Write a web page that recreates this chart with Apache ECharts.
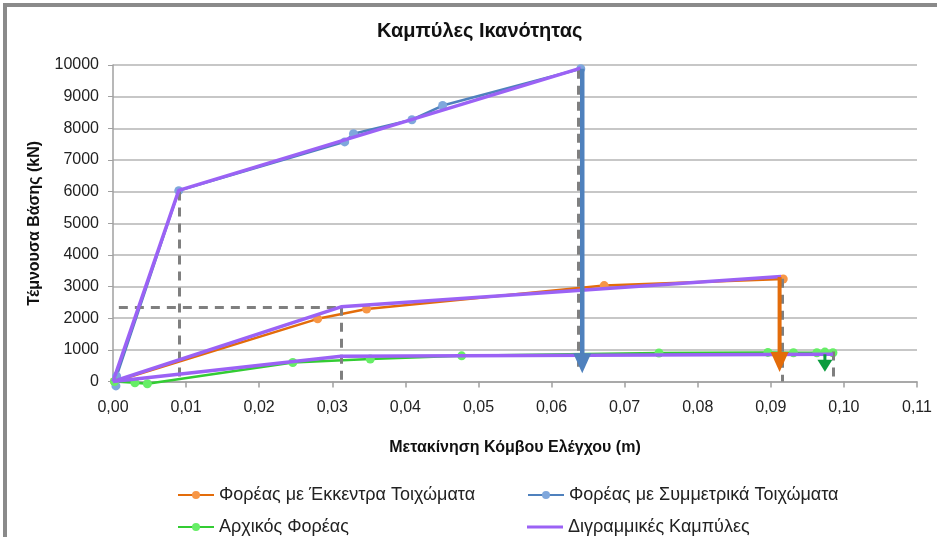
<!DOCTYPE html>
<html><head><meta charset="utf-8">
<script src="https://cdn.jsdelivr.net/npm/echarts@6/dist/echarts.min.js"></script>
<style>html,body{margin:0;padding:0;background:#fff}#c{width:937px;height:537px}</style>
</head><body><div id="c"></div>
<script>
// ---- data ----
const title = 'Καμπύλες Ικανότητας';
const xName = 'Μετακίνηση Κόμβου Ελέγχου (m)';
const yName = 'Τέμνουσα Βάσης (kN)';
const seriesNames = ['Φορέας με Έκκεντρα Τοιχώματα','Φορέας με Συμμετρικά Τοιχώματα','Αρχικός Φορέας','Διγραμμικές Καμπύλες'];

const eccX = [0.0002, 0.0280, 0.0347, 0.0672, 0.0917];
const eccY = [0, 1980, 2290, 3030, 3240];

const symX = [0.0004, 0.0005, 0.0090, 0.0317, 0.0329, 0.0409, 0.0451, 0.0640];
const symY = [-140, 170, 6030, 7570, 7830, 8270, 8720, 9880];

const initX = [0.0002, 0.0030, 0.0047, 0.0246, 0.0352, 0.0477, 0.0747, 0.0896, 0.0931, 0.0963, 0.0974, 0.0985];
const initY = [0, -40, -70, 600, 710, 810, 900, 920, 910, 910, 930, 910];

const biSymX = [0, 0.0090, 0.0640];
const biSymY = [0, 6040, 9900];
const biEccX = [0, 0.0312, 0.0914];
const biEccY = [0, 2360, 3320];
const biInitX = [0, 0.0312, 0.0985];
const biInitY = [0, 800, 860];

// arrows: [x, yStart, yHeadCentre]
const arrowSym = [0.0642, 9880, 580];
const arrowEcc = [0.0912, 3300, 620];
const arrowInit = [0.0974, 860, 500];

// dashed guide lines: [x1,y1,x2,y2]
const guides = [
  [0.0090, 6000, 0.0090, 0],
  [0.0008, 2360, 0.0312, 2360],
  [0.0312, 2360, 0.0312, 0],
  [0.0637, 9850, 0.0637, 300],
  [0.0916, 3250, 0.0916, 0],
  [0.0985, 950, 0.0985, 0]
];

const xMin = 0, xMax = 0.11, xStep = 0.01;
const yMin = 0, yMax = 10000, yStep = 1000;

// ---- build ----
const zip = (a, b) => a.map((v, i) => [v, b[i]]);
const cOrange = '#e36c0a', cOrangeM = '#f79646';
const cBlue = '#4f81bd', cBlueM = '#7fa7dc';
const cGreen = '#33cc33', cGreenM = '#66ee66';
const cPurple = '#9b62f5';

function dataSeries(name, xs, ys, color, mcolor) {
  return {
    name, type: 'line', data: zip(xs, ys), clip: false,
    symbol: 'circle', symbolSize: 9, showSymbol: true,
    lineStyle: { color, width: 2.5 },
    itemStyle: { color: mcolor, borderColor: mcolor, borderWidth: 0 },
    z: 3, animation: false
  };
}
function biSeries(xs, ys) {
  return {
    name: seriesNames[3], type: 'line', data: zip(xs, ys), clip: false,
    symbol: 'none', lineStyle: { color: cPurple, width: 3.5 },
    itemStyle: { color: cPurple }, z: 5, animation: false
  };
}
function arrowSeries(a, color, width, size) {
  return {
    type: 'line', silent: true, z: 8, zlevel: 0, clip: false, animation: false,
    lineStyle: { color, width },
    itemStyle: { color, borderWidth: 0 },
    showSymbol: true, showAllSymbol: true,
    symbol: (v, p) => p.dataIndex === 1 ? 'triangle' : 'none',
    symbolSize: (v, p) => p.dataIndex === 1 ? size : 0,
    symbolRotate: 180,
    data: [[a[0], a[1]], [a[0], a[2]]]
  };
}

const guideLines = guides.map(g => [{ coord: [g[0], g[1]] }, { coord: [g[2], g[3]] }]);

const fontReg = '"Liberation Sans", Arial, sans-serif';

const legendBase = {
  itemWidth: 36, itemHeight: 10,
  textStyle: { fontFamily: fontReg, fontSize: 18, color: '#222' },
  itemGap: 0
};

const option = {
  backgroundColor: '#fff',
  animation: false,
  title: {
    text: title, left: 372, top: 16,
    textStyle: { fontFamily: fontReg, fontSize: 20, fontWeight: 'bold', color: '#111' }
  },
  grid: { left: 113, right: 20, top: 65, bottom: 155.5, containLabel: false },
  legend: [
    Object.assign({}, legendBase, { data: [seriesNames[0]], left: 172, top: 481 }),
    Object.assign({}, legendBase, { data: [seriesNames[1]], left: 522, top: 481 }),
    Object.assign({}, legendBase, { data: [seriesNames[2]], left: 172, top: 513 }),
    Object.assign({}, legendBase, { data: [{ name: seriesNames[3], icon: 'rect' }], left: 522, top: 513, itemHeight: 3 })
  ],
  xAxis: {
    type: 'value', min: xMin, max: xMax, interval: xStep,
    name: xName, nameLocation: 'middle', nameGap: 58,
    nameTextStyle: { fontFamily: fontReg, fontSize: 16, fontWeight: 'bold', color: '#111' },
    axisLine: { show: true, lineStyle: { color: '#a0a0a0', width: 1.5 } },
    axisTick: { show: true, length: 6, lineStyle: { color: '#a0a0a0', width: 1.5 } },
    axisLabel: { fontFamily: fontReg, fontSize: 16, color: '#222', margin: 18,
      formatter: v => v.toFixed(2).replace('.', ',') },
    splitLine: { show: false }
  },
  yAxis: {
    type: 'value', min: yMin, max: yMax, interval: yStep,
    name: yName, nameLocation: 'middle', nameGap: 70,
    nameTextStyle: { fontFamily: fontReg, fontSize: 16, fontWeight: 'bold', color: '#111' },
    axisLine: { show: true, lineStyle: { color: '#a0a0a0', width: 1.5 } },
    axisTick: { show: true, length: 5, lineStyle: { color: '#a0a0a0', width: 1 } },
    axisLabel: { fontFamily: fontReg, fontSize: 16, color: '#222', margin: 14,
      formatter: v => String(v) },
    splitLine: { show: true, lineStyle: { color: '#b4b4b4', width: 1.5 } }
  },
  graphic: [
    { type: 'rect', shape: { x: 3, y: 3, width: 934, height: 4 }, style: { fill: '#8a8a8a' }, z: 100 },
    { type: 'rect', shape: { x: 3, y: 3, width: 4, height: 534 }, style: { fill: '#8a8a8a' }, z: 100 }
  ],
  series: [
    {
      type: 'line', data: [], silent: true, z: 2,
      markLine: {
        silent: true, symbol: ['none', 'none'], animation: false,
        label: { show: false },
        lineStyle: { color: '#7f7f7f', width: 3, type: [9, 7] },
        data: guideLines
      }
    },
    dataSeries(seriesNames[0], eccX, eccY, cOrange, cOrangeM),
    dataSeries(seriesNames[1], symX, symY, cBlue, cBlueM),
    dataSeries(seriesNames[2], initX, initY, cGreen, cGreenM),
    biSeries(biSymX, biSymY),
    biSeries(biEccX, biEccY),
    biSeries(biInitX, biInitY),
    arrowSeries(arrowSym, cBlue, 4.5, [18, 20]),
    arrowSeries(arrowEcc, cOrange, 4, [18, 20]),
    arrowSeries(arrowInit, '#0b9c3e', 3, [15, 12])
  ]
};

const chart = echarts.init(document.getElementById('c'), null, { renderer: 'canvas' });
chart.setOption(option);
</script>
</body></html>
